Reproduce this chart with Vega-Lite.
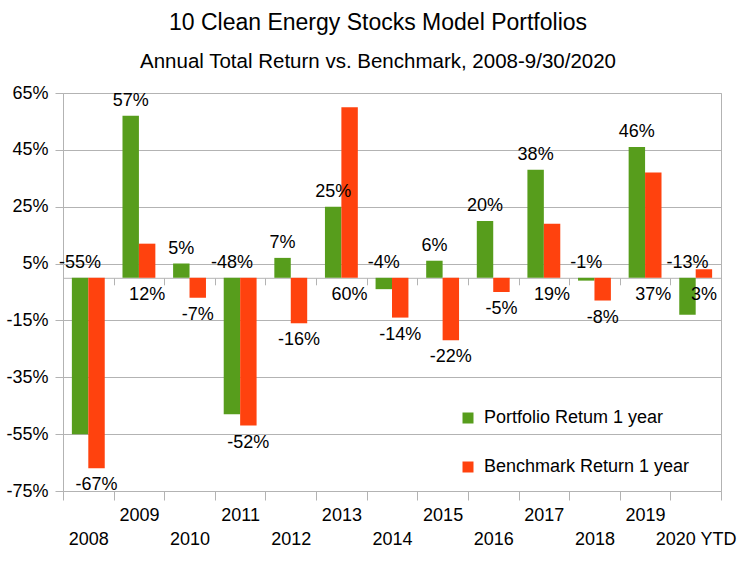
{
  "$schema": "https://vega.github.io/schema/vega-lite/v6.json",
  "width": 658,
  "height": 398,
  "autosize": {"type": "none"},
  "padding": {"left": 63, "top": 93, "right": 23, "bottom": 70},
  "background": "white",
  "config": {
    "font": "Liberation Sans",
    "view": {"stroke": "#b3b3b3", "strokeWidth": 1}
  },
  "title": {
    "text": "10 Clean Energy Stocks Model Portfolios",
    "subtitle": "Annual Total Return vs. Benchmark, 2008-9/30/2020",
    "fontSize": 23,
    "fontWeight": "normal",
    "subtitleFontSize": 20.5,
    "color": "#000000",
    "subtitleColor": "#000000",
    "anchor": "middle",
    "dx": -14,
    "offset": 12,
    "subtitlePadding": 17
  },
  "data": {
    "values": [
      {"year": "2008", "series": "Portfolio Retum 1 year", "value": -55},
      {"year": "2008", "series": "Benchmark Return 1 year", "value": -67},
      {"year": "2009", "series": "Portfolio Retum 1 year", "value": 57},
      {"year": "2009", "series": "Benchmark Return 1 year", "value": 12},
      {"year": "2010", "series": "Portfolio Retum 1 year", "value": 5},
      {"year": "2010", "series": "Benchmark Return 1 year", "value": -7},
      {"year": "2011", "series": "Portfolio Retum 1 year", "value": -48},
      {"year": "2011", "series": "Benchmark Return 1 year", "value": -52},
      {"year": "2012", "series": "Portfolio Retum 1 year", "value": 7},
      {"year": "2012", "series": "Benchmark Return 1 year", "value": -16},
      {"year": "2013", "series": "Portfolio Retum 1 year", "value": 25},
      {"year": "2013", "series": "Benchmark Return 1 year", "value": 60},
      {"year": "2014", "series": "Portfolio Retum 1 year", "value": -4},
      {"year": "2014", "series": "Benchmark Return 1 year", "value": -14},
      {"year": "2015", "series": "Portfolio Retum 1 year", "value": 6},
      {"year": "2015", "series": "Benchmark Return 1 year", "value": -22},
      {"year": "2016", "series": "Portfolio Retum 1 year", "value": 20},
      {"year": "2016", "series": "Benchmark Return 1 year", "value": -5},
      {"year": "2017", "series": "Portfolio Retum 1 year", "value": 38},
      {"year": "2017", "series": "Benchmark Return 1 year", "value": 19},
      {"year": "2018", "series": "Portfolio Retum 1 year", "value": -1},
      {"year": "2018", "series": "Benchmark Return 1 year", "value": -8},
      {"year": "2019", "series": "Portfolio Retum 1 year", "value": 46},
      {"year": "2019", "series": "Benchmark Return 1 year", "value": 37},
      {"year": "2020 YTD", "series": "Portfolio Retum 1 year", "value": -13},
      {"year": "2020 YTD", "series": "Benchmark Return 1 year", "value": 3}
    ]
  },
  "transform": [
    {"calculate": "datum.value + '%'", "as": "label"},
    {"calculate": "datum.series == 'Portfolio Retum 1 year' ? max(datum.value, 0) : min(datum.value, 0)", "as": "labelY"}
  ],
  "layer": [
    {
      "mark": {"type": "bar"},
      "encoding": {
        "x": {
          "field": "year", "type": "nominal", "sort": null,
          "scale": {"paddingInner": 0, "paddingOuter": 0},
          "axis": {
            "title": null, "orient": "bottom", "labelAngle": 0, "tickBand": "extent",
            "tickSize": 9, "tickColor": "#b3b3b3", "domain": false, "grid": false,
            "labelFontSize": 18, "labelColor": "#000000", "labelPadding": 6,
            "labelLineHeight": 24, "labelOverlap": false, "labelBound": false,
            "labelExpr": "indexof(['2009','2011','2013','2015','2017','2019'], datum.value) >= 0 ? datum.value : ['', datum.value]"
          }
        },
        "xOffset": {
          "field": "series", "type": "nominal",
          "sort": ["Portfolio Retum 1 year", "Benchmark Return 1 year"],
          "scale": {"paddingInner": 0, "paddingOuter": 0.54}
        },
        "y": {
          "field": "value", "type": "quantitative",
          "scale": {"domain": [-75, 65], "nice": false, "zero": false},
          "axis": {
            "title": null, "values": [-75, -55, -35, -15, 5, 25, 45, 65],
            "labelExpr": "datum.value + '%'", "grid": true, "gridColor": "#b3b3b3",
            "tickColor": "#b3b3b3", "tickSize": 8, "domain": false,
            "labelFontSize": 18, "labelColor": "#000000", "labelPadding": 7
          }
        },
        "color": {
          "field": "series", "type": "nominal",
          "scale": {"domain": ["Portfolio Retum 1 year", "Benchmark Return 1 year"], "range": ["#579d1c", "#ff420e"]},
          "legend": {
            "title": null, "orient": "none", "legendX": 396, "legendY": 316,
            "symbolType": "square", "symbolSize": 121, "symbolStrokeWidth": 0,
            "labelFontSize": 18, "labelColor": "#000000", "rowPadding": 31,
            "labelOffset": 7, "labelLimit": 300
          }
        }
      }
    },
    {
      "transform": [{"filter": "datum.series == 'Portfolio Retum 1 year'"}],
      "mark": {"type": "text", "baseline": "alphabetic", "dy": -10, "fontSize": 18, "color": "#000000"},
      "encoding": {
        "x": {
          "field": "year", "type": "nominal", "sort": null,
          "axis": {
            "title": null, "orient": "bottom", "offset": -213.2, "labels": false,
            "tickBand": "extent", "tickSize": 7, "tickColor": "#b3b3b3",
            "domain": true, "domainColor": "#b3b3b3", "grid": false
          }
        },
        "xOffset": {
          "field": "series", "type": "nominal",
          "sort": ["Portfolio Retum 1 year", "Benchmark Return 1 year"]
        },
        "y": {
          "field": "labelY", "type": "quantitative",
          "scale": {"domain": [-75, 65], "nice": false, "zero": false},
          "axis": {
            "title": null, "values": [-75, -55, -35, -15, 5, 25, 45, 65],
            "labelExpr": "datum.value + '%'", "grid": true, "gridColor": "#b3b3b3",
            "tickColor": "#b3b3b3", "tickSize": 8, "domain": false,
            "labelFontSize": 18, "labelColor": "#000000", "labelPadding": 7
          }
        },
        "text": {"field": "label"}
      }
    },
    {
      "transform": [{"filter": "datum.series == 'Benchmark Return 1 year'"}],
      "mark": {"type": "text", "baseline": "alphabetic", "dy": 22, "fontSize": 18, "color": "#000000"},
      "encoding": {
        "x": {"field": "year", "type": "nominal", "sort": null, "axis": null},
        "xOffset": {
          "field": "series", "type": "nominal",
          "sort": ["Portfolio Retum 1 year", "Benchmark Return 1 year"]
        },
        "y": {
          "field": "labelY", "type": "quantitative",
          "scale": {"domain": [-75, 65], "nice": false, "zero": false},
          "axis": {
            "title": null, "values": [-75, -55, -35, -15, 5, 25, 45, 65],
            "labelExpr": "datum.value + '%'", "grid": true, "gridColor": "#b3b3b3",
            "tickColor": "#b3b3b3", "tickSize": 8, "domain": false,
            "labelFontSize": 18, "labelColor": "#000000", "labelPadding": 7
          }
        },
        "text": {"field": "label"}
      }
    }
  ],
  "resolve": {"axis": {"x": "independent"}}
}
